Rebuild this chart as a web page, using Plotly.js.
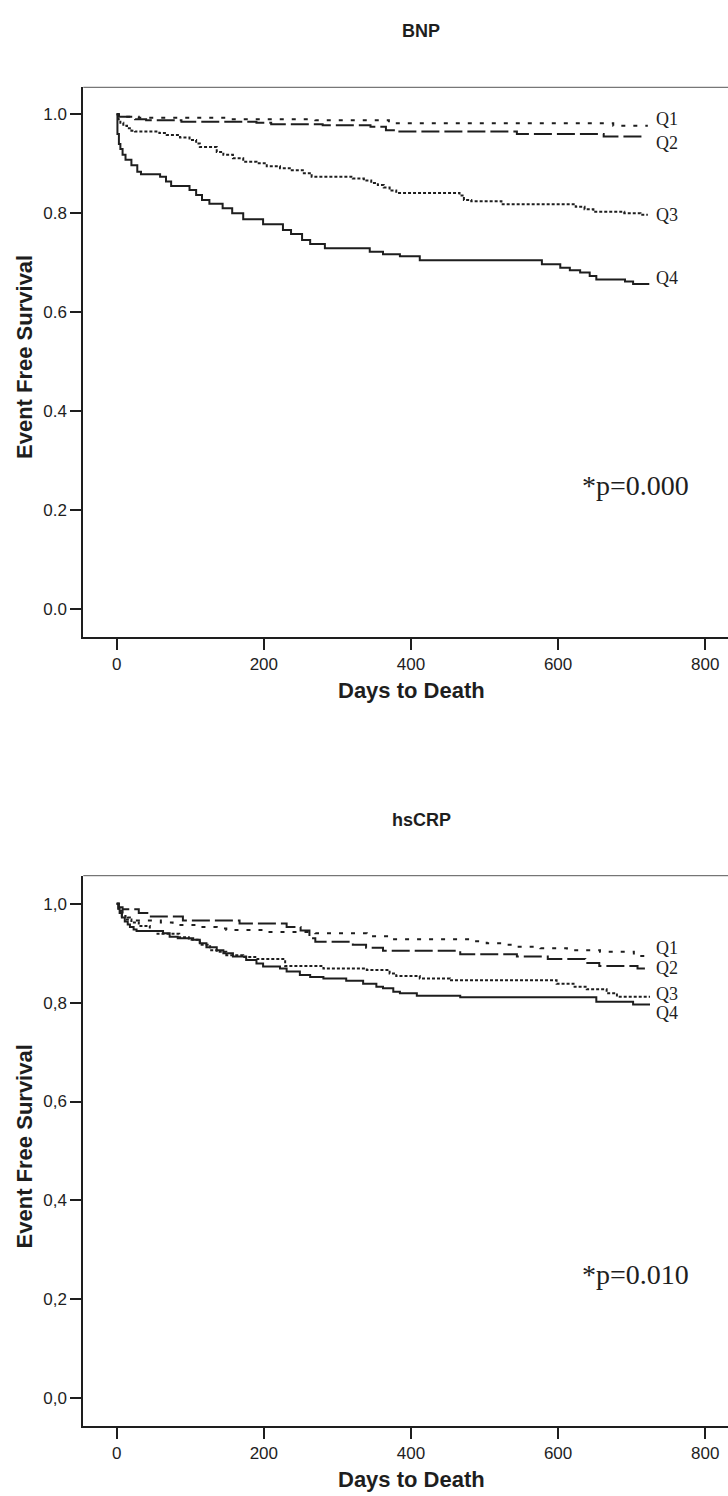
<!DOCTYPE html>
<html>
<head>
<meta charset="utf-8">
<script src="https://cdn.plot.ly/plotly-3.0.1.min.js"></script>
<style>
html,body{margin:0;padding:0;background:#fff;}
#chart{width:728px;height:1496px;}
</style>
</head>
<body>
<div id="chart"></div>
<script>
// ---------- DATA ----------
const panelTitles = ["BNP", "hsCRP"];
const groupNames = ["Q1", "Q2", "Q3", "Q4"];
const pValues = ["*p=0.000", "*p=0.010"];
const xTicks = [0, 200, 400, 600, 800];
const yTicks = [0, 0.2, 0.4, 0.6, 0.8, 1.0];
const yTickTextTop = ["0.0", "0.2", "0.4", "0.6", "0.8", "1.0"];
const yTickTextBottom = ["0,0", "0,2", "0,4", "0,6", "0,8", "1,0"];

// BNP panel
const bnpQ1Days = [0, 3, 30, 150, 270, 370, 675, 722];
const bnpQ1Surv = [1.0, 0.995, 0.993, 0.990, 0.988, 0.982, 0.977, 0.977];

const bnpQ2Days = [0, 3, 25, 40, 88, 190, 210, 280, 345, 366, 380, 544, 662, 720];
const bnpQ2Surv = [1.0, 0.995, 0.990, 0.988, 0.985, 0.983, 0.980, 0.978, 0.975, 0.968, 0.965, 0.960, 0.955, 0.955];

const bnpQ3Days = [0, 2, 5, 9, 14, 20, 25, 58, 68, 86, 99, 108, 113, 136, 145, 158, 172, 190, 204, 222, 238, 253, 265, 321, 336, 346, 355, 363, 371, 380, 466, 472, 482, 523, 624, 636, 648, 690, 712, 722];
const bnpQ3Surv = [1.0, 0.990, 0.983, 0.977, 0.972, 0.967, 0.965, 0.962, 0.958, 0.953, 0.948, 0.941, 0.934, 0.924, 0.918, 0.911, 0.904, 0.901, 0.895, 0.891, 0.887, 0.881, 0.874, 0.870, 0.866, 0.861, 0.857, 0.852, 0.846, 0.841, 0.836, 0.827, 0.824, 0.818, 0.813, 0.808, 0.803, 0.800, 0.797, 0.797];

const bnpQ4Days = [0, 1, 3, 5, 8, 12, 20, 28, 33, 59, 67, 74, 99, 108, 116, 126, 144, 157, 172, 199, 226, 237, 252, 263, 283, 344, 362, 385, 412, 578, 603, 616, 630, 643, 652, 691, 702, 724];
const bnpQ4Surv = [1.0, 0.960, 0.940, 0.930, 0.918, 0.908, 0.897, 0.884, 0.879, 0.874, 0.864, 0.855, 0.847, 0.837, 0.827, 0.819, 0.810, 0.800, 0.788, 0.778, 0.766, 0.758, 0.746, 0.738, 0.729, 0.722, 0.717, 0.713, 0.705, 0.697, 0.690, 0.685, 0.680, 0.673, 0.666, 0.662, 0.657, 0.657];

// hsCRP panel
const crpQ1Days = [0, 3, 8, 15, 22, 60, 76, 113, 136, 149, 204, 270, 340, 370, 485, 503, 525, 544, 576, 612, 657, 703, 721];
const crpQ1Surv = [1.0, 0.990, 0.980, 0.972, 0.966, 0.962, 0.957, 0.953, 0.950, 0.947, 0.943, 0.940, 0.934, 0.928, 0.924, 0.920, 0.917, 0.913, 0.910, 0.906, 0.903, 0.894, 0.894];

const crpQ2Days = [0, 3, 8, 30, 45, 90, 167, 231, 250, 262, 270, 321, 339, 362, 467, 544, 586, 637, 656, 708, 722];
const crpQ2Surv = [1.0, 0.993, 0.989, 0.981, 0.974, 0.966, 0.960, 0.953, 0.946, 0.930, 0.923, 0.917, 0.911, 0.905, 0.898, 0.893, 0.888, 0.880, 0.874, 0.869, 0.869];

const crpQ3Days = [0, 3, 7, 12, 20, 30, 45, 54, 85, 98, 113, 127, 136, 149, 172, 190, 229, 281, 340, 371, 380, 412, 453, 598, 621, 639, 666, 680, 725];
const crpQ3Surv = [1.0, 0.985, 0.975, 0.968, 0.962, 0.955, 0.945, 0.939, 0.932, 0.927, 0.917, 0.906, 0.903, 0.896, 0.892, 0.888, 0.874, 0.869, 0.866, 0.859, 0.854, 0.849, 0.845, 0.838, 0.832, 0.827, 0.819, 0.812, 0.812];

const crpQ4Days = [0, 2, 4, 7, 11, 15, 18, 23, 27, 63, 72, 83, 104, 113, 122, 136, 145, 158, 176, 190, 199, 222, 231, 249, 263, 281, 312, 335, 353, 362, 376, 385, 408, 467, 652, 702, 725];
const crpQ4Surv = [1.0, 0.990, 0.981, 0.972, 0.964, 0.958, 0.953, 0.948, 0.945, 0.940, 0.933, 0.930, 0.927, 0.920, 0.912, 0.906, 0.900, 0.893, 0.886, 0.879, 0.873, 0.869, 0.863, 0.856, 0.852, 0.849, 0.844, 0.838, 0.832, 0.829, 0.822, 0.819, 0.814, 0.811, 0.802, 0.796, 0.796];

// ---------- STYLE ----------
const INK = "#1e1e1e";
const SANS = "Liberation Sans, Arial, sans-serif";
const SERIF = "Liberation Serif, Times New Roman, serif";
const dashes = ["4px,8px", "18px,5px", "3px,2px", "solid"];
const W = 728, H = 1496;
const PANEL_OFFSET = 789.4;
// plot frames in pixels
const frameLeft = 83.3;
const frames = [{top: 87.3, bottom: 636.7}, {top: 875.7, bottom: 1425.7}];
const yRanges = [[-0.056, 1.0546], [-0.0554, 1.0566]];
const xRange = [-45.4, 831];

const panels = [
  {days: [bnpQ1Days, bnpQ2Days, bnpQ3Days, bnpQ4Days], surv: [bnpQ1Surv, bnpQ2Surv, bnpQ3Surv, bnpQ4Surv], labelShift: [7, -6, 0, 6]},
  {days: [crpQ1Days, crpQ2Days, crpQ3Days, crpQ4Days], surv: [crpQ1Surv, crpQ2Surv, crpQ3Surv, crpQ4Surv], labelShift: [8, 0, 3, -8]}
];

const traces = [];
const annotations = [];
const shapes = [];
const layout = {
  width: W, height: H,
  margin: {l: 0, r: 0, t: 0, b: 0, pad: 0},
  paper_bgcolor: "#fff", plot_bgcolor: "#fff",
  showlegend: false,
  font: {family: SANS, color: INK}
};

panels.forEach((p, i) => {
  const xa = i === 0 ? "x" : "x2";
  const ya = i === 0 ? "y" : "y2";
  const xKey = i === 0 ? "xaxis" : "xaxis2";
  const yKey = i === 0 ? "yaxis" : "yaxis2";
  const fr = frames[i];
  layout[xKey] = {
    domain: [frameLeft / W, 1],
    anchor: ya,
    range: xRange,
    tickvals: xTicks,
    ticktext: xTicks.map(String),
    ticks: "outside", ticklen: 11, tickwidth: 2, tickcolor: INK,
    showline: true, linecolor: INK, linewidth: 2, mirror: false,
    showgrid: false, zeroline: false,
    tickfont: {family: SANS, size: 17, color: INK}
  };
  layout[yKey] = {
    domain: [1 - fr.bottom / H, 1 - fr.top / H],
    anchor: xa,
    range: yRanges[i],
    tickvals: yTicks,
    ticktext: i === 0 ? yTickTextTop : yTickTextBottom,
    ticks: "outside", ticklen: 11, tickwidth: 2, tickcolor: INK,
    showline: true, linecolor: INK, linewidth: 2, mirror: false,
    showgrid: false, zeroline: false,
    tickfont: {family: SANS, size: 17, color: INK}
  };
  // top border of frame
  shapes.push({type: "line", xref: xa + " domain", yref: ya + " domain", x0: 0, x1: 1, y0: 1, y1: 1,
    line: {color: "#555", width: 1}});

  p.days.forEach((d, k) => {
    traces.push({
      type: "scatter", mode: "lines", xaxis: xa, yaxis: ya,
      x: d, y: p.surv[k], name: groupNames[k],
      line: {shape: "hv", color: INK, width: 2, dash: dashes[k]},
      hoverinfo: "skip"
    });
    annotations.push({
      xref: xa, yref: ya, x: 730, y: p.surv[k][p.surv[k].length - 1],
      xanchor: "left", yanchor: "middle", yshift: p.labelShift[k],
      text: groupNames[k], showarrow: false,
      font: {family: SERIF, size: 18, color: INK}
    });
  });

  const off = i * PANEL_OFFSET;
  // panel title
  annotations.push({xref: "paper", yref: "paper", x: 421 / W, y: 1 - (31 + off) / H,
    xanchor: "center", yanchor: "middle", text: "<b>" + panelTitles[i] + "</b>", showarrow: false,
    font: {family: SANS, size: 18, color: INK}});
  // y axis title
  annotations.push({xref: "paper", yref: "paper", x: 24 / W, y: 1 - (357 + off) / H,
    xanchor: "center", yanchor: "middle", textangle: -90, text: "<b>Event Free Survival</b>", showarrow: false,
    font: {family: SANS, size: 22, color: INK}});
  // x axis title
  annotations.push({xref: "paper", yref: "paper", x: 411.5 / W, y: 1 - (690.5 + off) / H,
    xanchor: "center", yanchor: "middle", text: "<b>Days to Death</b>", showarrow: false,
    font: {family: SANS, size: 22, color: INK}});
  // p value
  annotations.push({xref: xa, yref: ya, x: 630, y: 0.25,
    xanchor: "left", yanchor: "middle", text: pValues[i], showarrow: false,
    font: {family: SERIF, size: 28, color: INK}});
});

layout.annotations = annotations;
layout.shapes = shapes;

Plotly.newPlot("chart", traces, layout, {staticPlot: true, displayModeBar: false});
</script>
</body>
</html>
